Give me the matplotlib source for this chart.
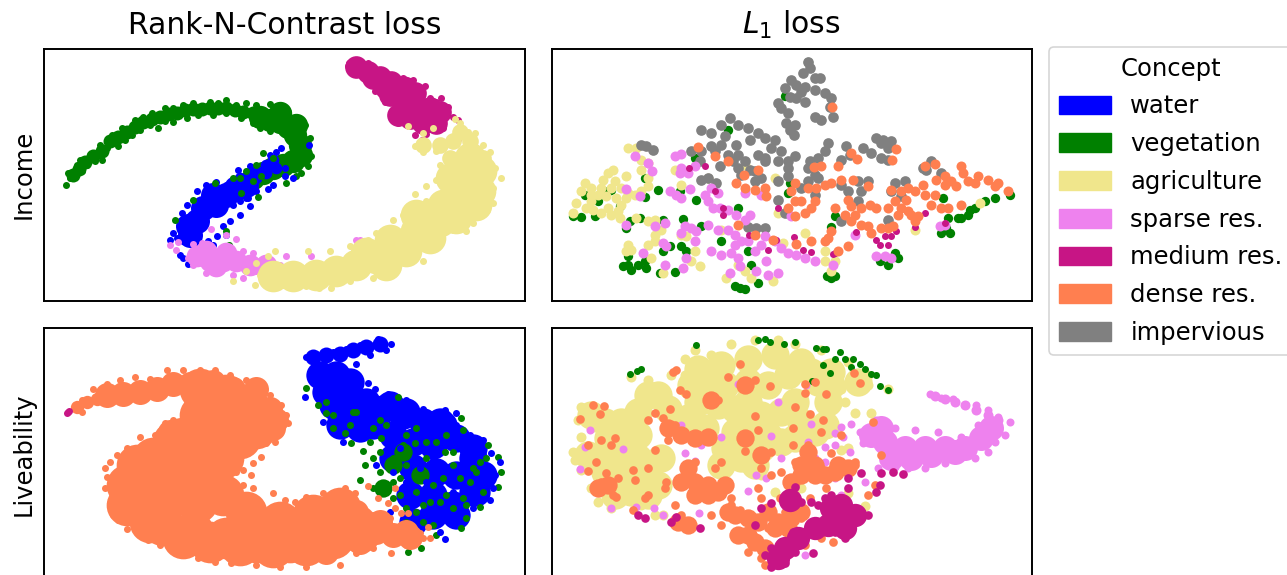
import numpy as np
import matplotlib
matplotlib.use('Agg')
import matplotlib.pyplot as plt
from matplotlib.patches import Patch

# colours per concept
concepts = ['water', 'vegetation', 'agriculture', 'sparse res.', 'medium res.', 'dense res.', 'impervious']
colors = ['blue', 'green', 'khaki', 'violet', 'mediumvioletred', 'coral', 'gray']
BLUE, GREEN, KHAKI, PINK, MAGENTA, ORANGE, GRAY = colors

# embedding values are read off the picture, dense parts are given as thick blobs
# ---------- Income / Rank-N-Contrast ----------
a_green_mid = [(100,392),(118,372),(135,352),(160,335),(185,318),(210,290),(235,278),(260,262),(285,245),(310,232),(335,222),(360,215),(385,208),
               (410,205),(435,195),(460,192),(485,192),(510,190),(535,190),(560,190),(585,195),(610,200),(640,205)]
a_green_core = [(660,215),(690,225),(720,230),(745,245),(765,270),(780,300),(785,330),(760,350),(730,360),(700,370),(670,385),(640,400),(770,240),(720,205)]
a_green = [(78,422),(90,400),(85,385),(105,395),(110,360),(125,380),(120,345),(140,360),(150,330),(165,350),(185,345),(180,300),(200,310),
           (215,270),(235,305),(245,250),(255,285),(275,270),(285,225),(300,255),(310,215),(330,240),(335,205),(355,250),(375,190),(375,228),
           (400,190),(400,230),(430,180),(440,220),(460,175),(475,210),(510,170),(520,210),(535,175),(560,165),(560,205),(590,180),(605,220),
           (620,175),(640,235),(650,180),(660,248),(690,178),(690,258),(720,180),(745,200),(770,215),(795,240),(810,280),(815,335),(805,365),
           (785,385),(770,395),(740,415)]
a_blue_core = [(450,570),(470,530),(490,490),(530,480),(520,450),(560,450),(590,430),(620,420),(445,545)]
a_blue_mid = [(650,400),(680,385),(710,370),(700,345),(680,360),(640,380),(600,400)]
a_blue = [(390,587),(400,565),(425,505),(440,480),(470,440),(500,420),(530,412),(560,420),(595,375),(630,365),(660,375),(690,330),(710,322),
          (725,310),(807,302),(760,400),(735,370),(735,395),(685,432),(700,420),(625,460),(630,485),(600,510),(570,530),(550,545),(533,575),
          (560,572),(520,600),(430,640),(445,658),(420,630),(505,590),(430,590),(410,580),(420,530),(580,480),(600,470),(650,440),(620,460)]
a_green_top = [(700,340),(670,325),(650,360),(620,380),(580,400),(525,415),(460,465),(405,525),(655,458),(605,445),(640,410),(568,602),(665,395),
               (560,560),(600,400)]
a_pink_core = [(470,635),(510,650),(550,650),(590,650),(530,665),(630,660),(680,660),(500,620),(560,625)]
a_pink = [(390,600),(408,617),(415,592),(458,597),(485,595),(490,622),(515,552),(560,572),(590,583),(445,640),(460,660),(500,685),(540,680),(580,690),
          (610,620),(640,625),(665,650),(700,655),(740,635),(720,660),(590,630),(630,660),(650,680),(610,700),(735,720),(770,700),(815,635),(820,722),
          (890,708),(950,585),(960,587),(580,660),(620,680),(765,670)]
a_magenta_core = [(950,65),(985,80),(1020,95),(1055,110),(1090,125),(1125,145),(1050,150),(1090,170),(1130,180),(1170,190),(1200,200),(1075,210),
                  (1110,220),(1150,235),(1190,235),(1000,100),(1040,130),(1100,130)]
a_magenta = [(928,55),(925,62),(985,55),(1000,70),(1040,85),(1090,100),(1120,105),(1155,122),(1000,105),(1005,138),(1035,170),(1060,195),(1075,235),
             (1105,190),(1120,230),(1140,250),(1125,270),(1205,158),(1225,185),(1240,215),(1255,225),(1210,250),(1160,268),(1255,282),(1148,285),(1190,170),(1170,160)]
a_khaki_core = [(1290,340),(1300,400),(1260,440),(1210,480),(1270,490),(1200,530),(1130,560),(1070,600),(1010,640),(950,660),(890,680),(830,690),(760,695),(700,695),
                (1325,380),(1320,440),(1235,400),(1310,480),(1250,520),(1170,580),(1100,620),(1040,660),(980,625),(1050,585),(1130,510)]
a_khaki_mid = [(1260,260),(1240,290),(1290,290),(1230,340),(1330,340),(1240,400),(1200,300),(1150,300)]
a_khaki = [(1260,235),(1285,260),(1305,265),(1330,300),(1352,322),(1365,370),(1385,400),(1360,430),(1360,475),(1342,495),(1300,535),(1280,560),(1240,555),(1190,605),
           (1150,650),(1100,650),(1060,680),(1000,700),(930,710),(875,730),(838,730),(790,700),(706,620),(685,635),(650,655),(620,680),(645,720),
           (805,618),(870,620),(930,605),(985,585),(1010,565),(1060,525),(1090,512),(1125,448),(1158,423),(1190,405),(1200,360),(1190,320),(1140,310),(1125,305),(1150,322),
           (1105,242),(1150,265),(1180,250),(1245,222),(1250,285),(1160,470),(580,710),(660,690),(730,720),(800,725)]

# ---------- Income / L1 ----------
b_green = [(75,515),(100,518),(140,515),(180,440),(110,452),(150,470),(190,435),(215,485),(290,400),(290,458),(330,435),(395,440),(445,465),(345,525),
           (245,530),(275,520),(405,522),(460,545),(235,550),(345,620),(365,605),(415,620),(400,605),(240,635),(225,665),(250,675),(270,660),(290,650),(295,670),
           (240,660),(335,685),(380,682),(570,490),(600,620),(520,590),(610,660),(630,715),(575,730),(590,732),(560,725),(850,700),(838,695),(860,695),
           (1050,640),(1020,660),(995,650),(1040,625),(1385,450),(1340,460),(1310,470),(1280,490),(1260,510),(1240,520),(1265,495),(1230,520),(1200,520),(1185,460),
           (1195,550),(1180,565),(1205,565),(860,515),(850,548),(440,340),(540,255),(725,415),(720,445),(780,50),(710,152)]
b_khaki = [(240,310),(265,310),(280,345),(300,355),(280,375),(300,400),(300,425),(280,440),(260,450),(235,460),(195,375),(180,385),(165,405),(110,415),(130,430),(100,440),
           (130,450),(175,455),(205,460),(220,480),(180,490),(160,505),(85,475),(75,505),(115,490),(135,495),(190,510),(215,520),(235,395),(265,520),(320,525),(300,530),(340,555),
           (320,570),(320,590),(300,600),(240,600),(235,620),(250,615),(310,640),(345,685),(440,620),(455,665),(430,650),(415,575),(400,570),(380,375),(400,420),(480,400),(520,555),
           (570,660),(590,680),(535,700),(610,700),(675,710),(705,595),(770,565),(830,620),(830,650),(850,680),(860,650),(1100,555),(680,400),(590,360),(1295,475),(690,505),
           (130,470),(160,430),(220,430),(190,430),(240,445),(200,410),(150,450),(210,500)]
b_pink = [(260,335),(300,355),(312,380),(233,432),(275,455),(235,540),(322,545),(350,535),(365,440),(385,450),(400,460),(425,432),(380,335),(400,328),(400,370),(440,365),
          (490,430),(470,450),(510,445),(480,470),(495,490),(515,490),(540,495),(565,510),(590,525),(605,510),(480,540),(510,555),(540,555),(560,570),(580,590),(560,600),
          (600,590),(640,600),(650,575),(680,590),(700,610),(720,625),(745,630),(770,640),(800,650),(855,660),(490,620),(520,630),(550,625),(570,640),(575,665),(625,680),(660,690),
          (690,685),(545,685),(410,545),(430,550),(445,560),(400,565),(345,595),(355,605),(415,640),(350,660),(405,670),(285,625),(920,570),(1010,635),(1030,640),
          (985,635),(1190,540),(1175,545),(730,515),(640,450),(590,445),(420,385),(395,385),(440,590),(655,650),(620,620)]
b_magenta = [(423,370),(470,365),(500,440),(525,510),(525,490),(602,570),(620,575),(737,578),(685,587),(660,617),(765,617),(788,622),(860,625),(925,562),(985,587),
             (1010,575),(1030,575),(995,600),(1020,600),(1045,560),(1100,548),(1190,535),(1130,505),(690,490),(855,628)]
b_gray = [(780,50),(785,70),(765,85),(800,100),(815,100),(730,105),(710,130),(745,120),(770,125),(800,135),(830,145),(850,160),(845,185),(855,215),(820,225),(800,215),
          (725,155),(745,160),(770,170),(690,175),(700,190),(720,205),(715,235),(740,240),(725,255),(738,272),(760,140),(460,255),(490,265),(520,240),(545,220),(570,240),(600,250),
          (630,265),(650,280),(680,285),(670,310),(605,285),(530,275),(520,300),(490,305),(460,320),(430,320),(500,320),(540,330),(570,330),(590,350),(515,365),(570,370),(630,330),
          (650,340),(700,320),(740,335),(720,350),(690,350),(650,350),(620,380),(580,390),(620,410),(640,400),(720,370),(720,395),(840,295),(830,320),(810,340),(785,350),(780,370),
          (800,390),(810,400),(895,305),(905,330),(880,345),(945,310),(970,325),(1000,340),(1020,345),(985,280),(1005,285),(1030,290),(1020,310),(1000,295),(760,430),(780,410),(880,420),
          (900,440),(930,410),(960,410),(940,440),(930,470),(690,465),(710,505),(800,450),(1040,415),(1070,410),(1030,440),(1060,455),(1125,370),(1150,350),(1180,385),(1135,375),
          (1020,525),(880,530),(600,547),(625,549),(650,550),(460,405),(505,415),(480,400),(690,410),(315,315),(295,305),(280,300),(565,300),(555,350),(605,375),(455,350)]
b_orange = [(450,307),(500,335),(540,348),(587,392),(630,375),(853,185),(1045,312),(1032,345),(908,325),(928,342),(870,365),(797,368),(820,365),(1130,365),(1160,358),
            (565,415),(590,430),(620,435),(650,430),(655,455),(740,415),(730,440),(780,430),(805,430),(830,420),(850,415),(880,407),(915,405),(960,425),(740,470),(720,490),(760,470),
            (790,490),(800,470),(740,515),(770,505),(900,465),(910,485),(860,490),(940,490),(965,480),(985,490),(890,510),(910,530),(940,540),(960,545),(970,565),(1000,550),(1020,550),
            (1035,545),(920,510),(1030,435),(1080,430),(1100,440),(1125,420),(1040,470),(1020,490),(1060,490),(1090,510),(1110,515),(1100,530),(1130,450),(1160,450),(1180,490),(1200,490),
            (1165,405),(1190,395),(1210,410),(1240,365),(1245,385),(1225,425),(1260,410),(1290,395),(1320,405),(1350,415),(1380,440),(1240,480),(1075,465),(1150,480),(790,590),(830,590),
            (850,560),(840,580),(900,605),(870,620),(620,570),(570,540),(675,585),(745,598),(1060,440),(1190,420),(1280,415),(1340,425),(1080,500),(1050,510)]

# ---------- Liveability / Rank-N-Contrast ----------
c_orange_core = [(300,440),(300,530),(370,600),(460,620),(560,640),(650,650),(750,650),(850,620),(950,600),(380,430),(380,520),(470,530),(470,440),(470,350),(550,300),(630,250),
                 (560,210),(480,190),(650,310),(550,400),(550,510),(620,560),(720,590),(820,570),(900,550),(430,340),(520,260),(600,340),(480,270),(600,260),(260,480),(260,540),(330,590),
                 (430,640),(510,650),(600,660),(700,665),(800,660),(880,640),(960,620),(340,400),(400,350),(290,420)]
c_orange_mid = [(200,210),(250,205),(300,200),(350,190),(400,175),(450,175),(520,170),(580,190),(640,220),(680,270),(710,285),(1060,630),(1010,620),(1110,635),(960,650),(860,680),
                (700,310),(690,250),(650,190),(1100,620),(1020,590),(950,560),(390,320)]
c_orange_tip = [(110,245),(140,230),(170,220)]
c_orange = [(125,225),(160,190),(200,175),(240,165),(285,155),(330,160),(380,135),(430,135),(480,135),(525,135),(570,150),(620,165),(655,180),(690,210),(725,240),(740,270),(745,295),
            (720,325),(705,350),(680,355),(665,395),(640,415),(635,450),(610,435),(590,440),(610,480),(640,490),(700,505),(735,525),(765,530),(800,515),(850,505),(915,490),(945,505),
            (1170,640),(1100,660),(1055,685),(1000,670),(950,685),(900,720),(800,725),(720,725),(650,720),(575,715),(525,710),(475,700),(430,680),(400,670),(360,660),(325,645),(290,620),
            (262,612),(235,585),(220,570),(210,535),(195,490),(200,455),(195,430),(210,410),(230,390),(260,370),(300,335),(345,330),(375,295),(400,285),(435,268),
            (125,260),(985,483),(1065,490),(1015,520),(1045,535),(1065,548),(1085,565),(1105,565),(1050,580),(1165,607),
            (1000,570),(1030,600),(1090,610),(1140,625),(985,590),(1150,640)]
c_magenta = [(84,262),(80,265),(86,258)]
c_blue_tail = [(820,95),(860,90),(900,85),(940,75),(980,65),(1020,55)]
c_blue_core = [(840,150),(890,150),(930,170),(860,200),(930,210),(980,230),(1030,250),(880,240),(1090,270),(1150,290),(1210,300),(1000,300),(1060,330),(1120,350),(1180,360),(1250,340),
               (1300,400),(1330,450),(1300,500),(1240,540),(1180,570),(1120,590),(1060,400),(1120,430),(1190,440),(1250,450),(1180,510),(1110,510),(950,290),(900,300),(1300,370),
               (1050,240),(1100,260),(1200,290),(1250,570),(1310,500),(900,260),(960,310)]
c_blue = [(800,95),(830,85),(880,80),(920,70),(960,60),(1015,40),(1055,55),(1040,75),(990,90),(950,115),(985,172),(1005,190),(1045,205),(1100,225),(1150,250),(1190,265),(1215,255),(1250,265),
          (1250,300),(1290,330),(1330,345),(1355,385),(1380,410),(1365,450),(1360,490),(1350,525),(1300,550),(1250,590),(1200,620),(1215,642),(1100,600),(1050,560),(795,215),(850,290),(910,350),
          (1010,420),(1100,470),(1160,470),(1120,520),(1200,490),(1240,500),(1180,400),(1080,370),(960,300),(900,290),(1060,440),(1230,590),(1170,560),(1140,430),(1280,430),(1330,440)]
c_green_core = [(1140,450),(1030,490),(1060,420),(1090,380)]
c_green = [(975,420),(1000,400),(960,465),(1000,490),(1030,500),(1060,520),(1100,550),(1150,590),(1190,630),(1265,610),(1280,580),(1320,545),(1375,485),(1385,440),(1375,395),(1345,360),(1270,315),
           (1265,280),(1105,680),(1145,668),(800,188),(835,240),(860,265),(880,310),(915,325),(970,378),(935,355),(1075,215),(950,260),(1020,285),(1025,340),(1090,360),(1125,355),(1215,380),
           (1300,430),(1260,460),(1320,410),(1160,350),(1240,420),(1060,400),(1080,460),(1200,530),(1240,550),(1130,560),(1080,510),(1020,440),(990,350),(1210,460),(1270,520),(1160,400),(1170,530),
           (1100,420),(1130,500),(940,260),(880,270),(1000,310),(1190,350),(1240,380),(1290,470),(1310,440),(1340,400),(1100,330),(1040,300),(930,300),(860,230),(1180,480),(1220,510),(1150,540),
           (1100,590),(1180,600),(1280,540),(1330,500),(1060,470),(1020,380),(1130,310),(1220,330)]

# ---------- Liveability / L1 ----------
d_khaki_core = [(450,130),(520,120),(600,100),(680,90),(760,110),(850,140),(930,170),(300,210),(360,250),(220,290),(270,330),(170,290),(120,390),(190,400),(270,400),(340,400),
                (450,230),(560,250),(610,310),(740,230),(840,230),(530,180),(660,180),(760,290),(580,400),(470,310),(700,350),(330,480),(430,180),(480,170),(600,170),(720,150),(790,140),
                (270,260),(330,210),(420,280),(510,240),(600,230),(240,370),(300,450),(220,450),(180,340),(530,370),(640,370),(640,270),(700,260),(130,270),(850,180),(810,170),
                (560,320),(660,330),(520,420),(620,420),(740,340),(800,320),(830,300),(170,440),(250,500),(300,510),(200,510)]
d_khaki = [(250,155),(300,165),(370,150),(410,100),(440,75),(490,90),(550,55),(620,45),(690,45),(740,55),(820,75),(900,110),(960,150),(1020,190),(960,180),(880,190),(890,230),(850,250),(830,290),
           (860,320),(920,265),(970,265),(100,245),(90,285),(130,310),(100,335),(75,380),(80,405),(100,435),(150,455),(130,490),(150,530),(190,550),(240,520),(280,540),(320,570),(345,570),
           (1073,355),(1020,383),(950,542),(900,505),(410,150),(410,200),(200,340),(360,310),(640,450),(680,500),(760,490),(880,375),(900,370)]
d_green = [(247,147),(268,138),(278,130),(445,60),(630,45),(650,42),(665,50),(707,57),(740,50),(805,68),(825,70),(835,72),(825,120),(875,80),(860,100),(890,100),(847,142),(915,100),(935,115),(950,130),
           (970,145),(985,150),(995,182),(1020,195),(791,167),(910,125)]
d_pink_tail = [(1160,212),(1190,220),(1220,230),(1250,240),(1285,255),(1320,270),(1350,285)]
d_pink_core = [(1330,310),(1300,340),(1250,370),(1190,370),(1130,370),(1070,370),(1010,350),(970,330),(1030,400),(1090,400),(1150,390),(1220,380),(1000,310)]
d_pink = [(1145,207),(1180,218),(1215,222),(1250,240),(1285,240),(1320,255),(1350,275),(1385,290),(1290,300),(1370,330),(1340,350),(1320,380),(1280,400),(1240,395),(1190,415),(1130,430),(1080,430),
          (1040,425),(990,430),(945,355),(935,320),(985,285),(1040,310),(1100,315),(1170,320),(1240,335),(908,297),(880,305),(860,325),(885,335),(125,315),(110,365),(95,432),(225,373),(400,300),
          (460,360),(410,385),(440,408),(420,428),(670,332),(520,335),(600,498),(655,460),(700,400),(770,450),(800,400),(830,365),(860,360),(905,380),(830,410),(780,350),(190,550),(265,545),(318,548),
          (345,570),(420,605),(452,563),(547,563),(690,230),(570,177),(775,178),(790,298),(880,510),(860,460),(625,450),(770,690),(950,470)]
d_orange_core = [(360,310),(400,330),(440,340),(480,335),(420,430),(400,470),(440,470),(480,480),(530,480),(510,500),(440,510),(480,510),(560,570),(600,580),(570,630),(620,650),(690,590),(730,580),
                 (720,610),(680,610),(760,560),(800,420),(760,420),(830,450),(870,420),(640,390),(590,340),(590,180),(490,225),(390,590),(420,600),(150,490),(180,480),
                 (540,560),(600,630),(650,670),(660,560),(630,590),(800,450),(860,440),(900,430),(760,450),(730,470),(780,380)]
d_orange = [(135,240),(167,242),(155,268),(95,282),(300,285),(320,265),(345,280),(365,250),(380,300),(375,140),(385,135),(395,195),(415,205),(490,215),(480,235),(510,225),(540,155),(575,117),(620,165),
            (665,182),(770,175),(800,170),(770,203),(740,245),(835,205),(785,268),(825,285),(735,308),(735,360),(620,272),(630,315),(600,340),(590,378),(640,380),(670,380),(160,345),(200,340),(120,360),
            (190,360),(320,375),(360,345),(145,412),(120,437),(175,445),(140,490),(160,470),(210,460),(255,435),(260,465),(195,510),(205,515),(300,430),(300,510),(290,520),(255,555),(350,490),(355,470),
            (380,540),(400,570),(400,600),(430,590),(490,570),(520,600),(550,540),(575,555),(640,520),(670,450),(700,440),(640,430),(630,490),(550,520),(440,410),(420,440),(520,410),(500,430),
            (780,360),(780,380),(850,385),(820,320),(880,330),(740,410),(820,430),(880,420),(920,410),(710,560),(760,580),(660,610),(620,650),(640,700),(770,660),(820,640),(855,650),(695,520),
            (740,625),(790,620),(600,680),(650,720),(935,172),(917,143),(975,290),(1000,390),(980,480),(960,510),(835,490),(785,520),(920,420)]
d_magenta_core = [(870,570),(850,550),(880,540),(920,570),(840,600),(890,610),(750,640),(710,670),(690,700),(800,610),(725,525)]
d_magenta = [(270,570),(290,578),(370,590),(385,575),(455,610),(620,600),(640,550),(670,535),(720,510),(740,485),(760,530),(790,530),(810,540),(830,520),(850,510),(900,490),(940,445),(1000,445),(1035,440),
             (1065,447),(985,500),(995,480),(960,570),(940,560),(920,590),(890,640),(860,620),(820,600),(800,630),(770,620),(735,620),(700,650),(670,670),(650,690),(670,725),(710,715),(740,680),(795,685),
             (900,460),(720,530),(760,650),(850,600)]


def draw(ax, pts, color, diam=21):
    # diam is the dot diameter in units of the x axis
    pts = np.array(pts)
    dpt = diam / 3 * 72 / 100
    ax.scatter(pts[:, 0], pts[:, 1], s=dpt ** 2, color=color, linewidths=0)


fig = plt.figure(figsize=(12.87, 5.75), dpi=100)
W, H = 1287, 575


def make_ax(left, top, width, height, xlim, ylim):
    ax = fig.add_axes([left / W, 1 - (top + height) / H, width / W, height / H])
    ax.set_xlim(*xlim)
    ax.set_ylim(*ylim)
    ax.set_xticks([])
    ax.set_yticks([])
    for s in ax.spines.values():
        s.set_linewidth(1.4)
    return ax


ax_a = make_ax(44, 49, 480.5, 251.5, (12, 1455), (768, 12))
ax_b = make_ax(551.5, 49, 480.5, 251.5, (10, 1452), (768, 12))
ax_c = make_ax(44, 328, 480.5, 251.5, (12, 1455), (764, 8))
ax_d = make_ax(551.5, 328, 480.5, 251.5, (10, 1452), (764, 8))

# Income, contrastive
draw(ax_a, a_green_mid, GREEN, 42)
draw(ax_a, a_green_core, GREEN, 70)
draw(ax_a, a_green, GREEN)
draw(ax_a, a_blue_core, BLUE, 75)
draw(ax_a, a_blue_mid, BLUE, 35)
draw(ax_a, a_blue, BLUE)
draw(ax_a, a_green_top, GREEN)
draw(ax_a, a_magenta_core, MAGENTA, 68)
draw(ax_a, a_magenta, MAGENTA)
draw(ax_a, a_pink_core, PINK, 65)
draw(ax_a, a_pink, PINK)
draw(ax_a, a_khaki_core, KHAKI, 95)
draw(ax_a, a_khaki_mid, KHAKI, 50)
draw(ax_a, a_khaki, KHAKI)

# Income, L1
draw(ax_b, b_green, GREEN, 28)
draw(ax_b, b_khaki, KHAKI, 30)
draw(ax_b, b_gray, GRAY, 32)
draw(ax_b, b_pink, PINK, 30)
draw(ax_b, b_magenta, MAGENTA, 21)
draw(ax_b, b_orange, ORANGE, 30)

# Liveability, contrastive
draw(ax_c, c_blue_core, BLUE, 85)
draw(ax_c, c_blue_tail, BLUE, 48)
draw(ax_c, c_green_core, GREEN, 55)
draw(ax_c, c_green, GREEN)
draw(ax_c, c_blue, BLUE)
draw(ax_c, c_orange_core, ORANGE, 125)
draw(ax_c, c_orange_mid, ORANGE, 75)
draw(ax_c, c_orange_tip, ORANGE, 40)
draw(ax_c, c_orange, ORANGE)
draw(ax_c, c_magenta, MAGENTA)

# Liveability, L1
draw(ax_d, d_khaki_core, KHAKI, 85)
draw(ax_d, d_khaki, KHAKI, 30)
draw(ax_d, d_green, GREEN)
draw(ax_d, d_pink_tail, PINK, 30)
draw(ax_d, d_pink_core, PINK, 75)
draw(ax_d, d_pink, PINK, 24)
draw(ax_d, d_orange_core, ORANGE, 55)
draw(ax_d, d_orange, ORANGE, 26)
draw(ax_d, d_magenta_core, MAGENTA, 70)
draw(ax_d, d_magenta, MAGENTA, 26)

ax_a.set_title('Rank-N-Contrast loss', fontsize=21.5, pad=11)
ax_b.set_title('$L_1$ loss', fontsize=21.5, pad=11)
ax_a.set_ylabel('Income', fontsize=17.5, labelpad=6)
ax_c.set_ylabel('Liveability', fontsize=17.5, labelpad=6)

handles = [Patch(color=c, label=n) for n, c in zip(concepts, colors)]
leg = fig.legend(handles=handles, title='Concept', loc='upper left', bbox_to_anchor=(1049 / W, 1 - 47 / H),
                 borderaxespad=0, fontsize=17.5, title_fontsize=17.5, frameon=True, handlelength=2.15, handleheight=0.8,
                 handletextpad=0.8, labelspacing=0.565)
leg.get_frame().set_linewidth(1.2)

plt.savefig('out.png', dpi=100)
